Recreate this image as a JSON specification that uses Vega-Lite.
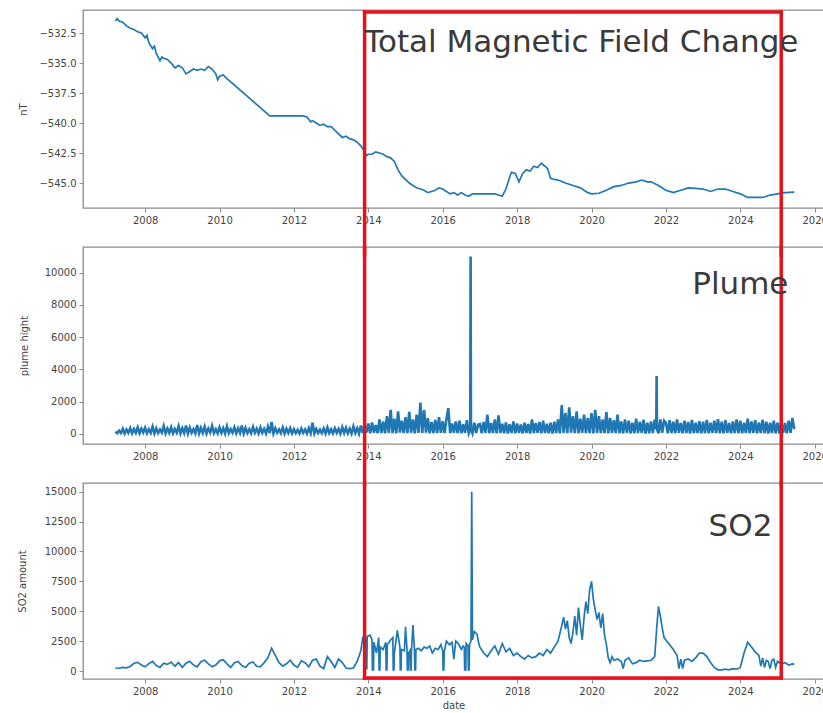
{
  "$schema": "https://vega.github.io/schema/vega-lite/v6.json",
  "background": "white",
  "padding": {"left": 16, "top": 8, "right": 0, "bottom": 0},
  "bounds": "flush",
  "spacing": 39,
  "config": {
    "view": {"stroke": "#8a8a8a", "strokeWidth": 1.3},
    "axis": {"grid": false, "domain": false, "labelOverlap": false, "tickColor": "#8a8a8a", "tickSize": 4, "labelFont": "DejaVu Sans", "labelFontSize": 10, "labelColor": "#444444", "titleFont": "DejaVu Sans", "titleFontSize": 10, "titleFontWeight": "normal", "titleColor": "#444444", "labelPadding": 3},
    "title": {"font": "DejaVu Sans", "fontSize": 31, "fontWeight": "normal", "color": "#3a3a3a", "anchor": "end", "baseline": "alphabetic"}
  },
  "datasets": {
    "box": [{"start": 2013.9, "end": 2025.1}],
    "mag": [
      {"date":2007.2,"value":-531.5},{"date":2007.25,"value":-531.3},{"date":2007.3,"value":-531.5},{"date":2007.4,"value":-531.6},{"date":2007.5,"value":-531.9},{"date":2007.6,"value":-532.1},{"date":2007.7,"value":-532.2},{"date":2007.8,"value":-532.4},{"date":2007.9,"value":-532.5},{"date":2008.0,"value":-532.9},{"date":2008.05,"value":-532.7},{"date":2008.1,"value":-533.3},{"date":2008.2,"value":-533.8},{"date":2008.25,"value":-533.6},{"date":2008.3,"value":-534.2},{"date":2008.4,"value":-534.8},{"date":2008.45,"value":-534.5},{"date":2008.5,"value":-534.6},{"date":2008.6,"value":-534.7},{"date":2008.7,"value":-535.0},{"date":2008.8,"value":-535.4},{"date":2008.9,"value":-535.2},{"date":2009.0,"value":-535.4},{"date":2009.1,"value":-535.9},{"date":2009.2,"value":-535.7},{"date":2009.3,"value":-535.5},{"date":2009.4,"value":-535.6},{"date":2009.5,"value":-535.5},{"date":2009.6,"value":-535.6},{"date":2009.7,"value":-535.3},{"date":2009.8,"value":-535.5},{"date":2009.9,"value":-535.9},{"date":2009.95,"value":-536.4},{"date":2010.0,"value":-536.1},{"date":2010.1,"value":-536.0},{"date":2010.2,"value":-536.3},{"date":2011.35,"value":-539.4},{"date":2012.25,"value":-539.4},{"date":2012.35,"value":-539.5},{"date":2012.45,"value":-539.9},{"date":2012.5,"value":-539.8},{"date":2012.6,"value":-540.0},{"date":2012.7,"value":-540.2},{"date":2012.8,"value":-540.1},{"date":2012.9,"value":-540.3},{"date":2013.0,"value":-540.3},{"date":2013.1,"value":-540.6},{"date":2013.2,"value":-540.9},{"date":2013.3,"value":-541.2},{"date":2013.4,"value":-541.1},{"date":2013.5,"value":-541.3},{"date":2013.6,"value":-541.4},{"date":2013.7,"value":-541.6},{"date":2013.8,"value":-541.9},{"date":2013.9,"value":-542.4},{"date":2013.95,"value":-542.7},{"date":2014.0,"value":-542.6},{"date":2014.1,"value":-542.6},{"date":2014.2,"value":-542.4},{"date":2014.3,"value":-542.5},{"date":2014.4,"value":-542.6},{"date":2014.5,"value":-542.8},{"date":2014.6,"value":-542.9},{"date":2014.7,"value":-543.2},{"date":2014.8,"value":-543.9},{"date":2014.9,"value":-544.4},{"date":2015.0,"value":-544.7},{"date":2015.1,"value":-545.0},{"date":2015.2,"value":-545.2},{"date":2015.3,"value":-545.4},{"date":2015.4,"value":-545.5},{"date":2015.5,"value":-545.6},{"date":2015.6,"value":-545.8},{"date":2015.7,"value":-545.7},{"date":2015.8,"value":-545.6},{"date":2015.9,"value":-545.4},{"date":2016.0,"value":-545.5},{"date":2016.1,"value":-545.7},{"date":2016.2,"value":-545.9},{"date":2016.3,"value":-545.8},{"date":2016.4,"value":-546.0},{"date":2016.5,"value":-545.8},{"date":2016.6,"value":-546.0},{"date":2016.7,"value":-546.1},{"date":2016.8,"value":-545.9},{"date":2017.0,"value":-545.9},{"date":2017.2,"value":-545.9},{"date":2017.4,"value":-545.9},{"date":2017.5,"value":-546.0},{"date":2017.6,"value":-546.1},{"date":2017.7,"value":-545.5},{"date":2017.8,"value":-544.5},{"date":2017.85,"value":-544.1},{"date":2017.95,"value":-544.2},{"date":2018.05,"value":-544.9},{"date":2018.15,"value":-544.2},{"date":2018.25,"value":-543.9},{"date":2018.35,"value":-544.0},{"date":2018.45,"value":-543.6},{"date":2018.55,"value":-543.7},{"date":2018.65,"value":-543.35},{"date":2018.75,"value":-543.6},{"date":2018.82,"value":-543.8},{"date":2018.9,"value":-544.6},{"date":2019.0,"value":-544.7},{"date":2019.1,"value":-544.75},{"date":2019.3,"value":-545.0},{"date":2019.5,"value":-545.2},{"date":2019.7,"value":-545.4},{"date":2019.9,"value":-545.8},{"date":2020.0,"value":-545.9},{"date":2020.2,"value":-545.85},{"date":2020.4,"value":-545.6},{"date":2020.6,"value":-545.3},{"date":2020.8,"value":-545.2},{"date":2021.0,"value":-545.0},{"date":2021.2,"value":-544.9},{"date":2021.35,"value":-544.75},{"date":2021.5,"value":-544.9},{"date":2021.6,"value":-544.9},{"date":2021.8,"value":-545.2},{"date":2022.0,"value":-545.6},{"date":2022.2,"value":-545.8},{"date":2022.4,"value":-545.6},{"date":2022.6,"value":-545.4},{"date":2022.8,"value":-545.45},{"date":2023.0,"value":-545.5},{"date":2023.2,"value":-545.7},{"date":2023.4,"value":-545.5},{"date":2023.6,"value":-545.5},{"date":2023.8,"value":-545.7},{"date":2024.0,"value":-545.9},{"date":2024.2,"value":-546.2},{"date":2024.4,"value":-546.2},{"date":2024.6,"value":-546.2},{"date":2024.8,"value":-546.0},{"date":2025.0,"value":-545.9},{"date":2025.2,"value":-545.8},{"date":2025.45,"value":-545.75}
    ],
    "plume": [
      {"date":2007.20,"value":150},{"date":2007.25,"value":40},{"date":2007.30,"value":210},{"date":2007.35,"value":60},{"date":2007.40,"value":320},{"date":2007.45,"value":30},{"date":2007.50,"value":280},{"date":2007.55,"value":80},{"date":2007.60,"value":360},{"date":2007.65,"value":40},{"date":2007.70,"value":300},{"date":2007.75,"value":70},{"date":2007.80,"value":410},{"date":2007.85,"value":50},{"date":2007.90,"value":330},{"date":2007.95,"value":90},
      {"date":2008.00,"value":380},{"date":2008.05,"value":40},{"date":2008.10,"value":290},{"date":2008.15,"value":70},{"date":2008.20,"value":450},{"date":2008.25,"value":30},{"date":2008.30,"value":350},{"date":2008.35,"value":60},{"date":2008.40,"value":270},{"date":2008.45,"value":90},{"date":2008.50,"value":500},{"date":2008.55,"value":40},{"date":2008.60,"value":330},{"date":2008.65,"value":70},{"date":2008.70,"value":420},{"date":2008.75,"value":50},{"date":2008.80,"value":310},{"date":2008.85,"value":80},{"date":2008.90,"value":480},{"date":2008.95,"value":40},
      {"date":2009.00,"value":360},{"date":2009.05,"value":60},{"date":2009.10,"value":520},{"date":2009.15,"value":30},{"date":2009.20,"value":400},{"date":2009.25,"value":80},{"date":2009.30,"value":300},{"date":2009.35,"value":50},{"date":2009.40,"value":560},{"date":2009.45,"value":40},{"date":2009.50,"value":380},{"date":2009.55,"value":70},{"date":2009.60,"value":450},{"date":2009.65,"value":30},{"date":2009.70,"value":340},{"date":2009.75,"value":90},{"date":2009.80,"value":510},{"date":2009.85,"value":60},{"date":2009.90,"value":290},{"date":2009.95,"value":40},
      {"date":2010.00,"value":420},{"date":2010.05,"value":70},{"date":2010.10,"value":360},{"date":2010.15,"value":30},{"date":2010.20,"value":480},{"date":2010.25,"value":60},{"date":2010.30,"value":300},{"date":2010.35,"value":80},{"date":2010.40,"value":410},{"date":2010.45,"value":40},{"date":2010.50,"value":350},{"date":2010.55,"value":70},{"date":2010.60,"value":520},{"date":2010.65,"value":30},{"date":2010.70,"value":380},{"date":2010.75,"value":60},{"date":2010.80,"value":290},{"date":2010.85,"value":50},{"date":2010.90,"value":440},{"date":2010.95,"value":80},
      {"date":2011.00,"value":330},{"date":2011.05,"value":40},{"date":2011.10,"value":400},{"date":2011.15,"value":70},{"date":2011.20,"value":310},{"date":2011.25,"value":30},{"date":2011.30,"value":460},{"date":2011.35,"value":60},{"date":2011.40,"value":750},{"date":2011.45,"value":40},{"date":2011.50,"value":350},{"date":2011.55,"value":80},{"date":2011.60,"value":280},{"date":2011.65,"value":50},{"date":2011.70,"value":400},{"date":2011.75,"value":30},{"date":2011.80,"value":320},{"date":2011.85,"value":70},{"date":2011.90,"value":360},{"date":2011.95,"value":40},
      {"date":2012.00,"value":300},{"date":2012.05,"value":60},{"date":2012.10,"value":250},{"date":2012.15,"value":40},{"date":2012.20,"value":330},{"date":2012.25,"value":70},{"date":2012.30,"value":280},{"date":2012.35,"value":30},{"date":2012.40,"value":360},{"date":2012.45,"value":50},{"date":2012.50,"value":700},{"date":2012.55,"value":40},{"date":2012.60,"value":310},{"date":2012.65,"value":70},{"date":2012.70,"value":270},{"date":2012.75,"value":50},{"date":2012.80,"value":340},{"date":2012.85,"value":30},{"date":2012.90,"value":400},{"date":2012.95,"value":60},
      {"date":2013.00,"value":290},{"date":2013.05,"value":40},{"date":2013.10,"value":350},{"date":2013.15,"value":70},{"date":2013.20,"value":310},{"date":2013.25,"value":30},{"date":2013.30,"value":420},{"date":2013.35,"value":60},{"date":2013.40,"value":380},{"date":2013.45,"value":50},{"date":2013.50,"value":330},{"date":2013.55,"value":40},{"date":2013.60,"value":460},{"date":2013.65,"value":70},{"date":2013.70,"value":360},{"date":2013.75,"value":30},{"date":2013.80,"value":520},{"date":2013.85,"value":60},{"date":2013.90,"value":580},{"date":2013.95,"value":90},
      {"date":2014.00,"value":650},{"date":2014.05,"value":40},{"date":2014.10,"value":720},{"date":2014.15,"value":80},{"date":2014.20,"value":560},{"date":2014.25,"value":50},{"date":2014.30,"value":900},{"date":2014.35,"value":60},{"date":2014.40,"value":780},{"date":2014.45,"value":40},{"date":2014.50,"value":1100},{"date":2014.55,"value":70},{"date":2014.60,"value":1490},{"date":2014.65,"value":60},{"date":2014.70,"value":950},{"date":2014.75,"value":40},{"date":2014.80,"value":1400},{"date":2014.85,"value":90},{"date":2014.90,"value":820},{"date":2014.95,"value":60},
      {"date":2015.00,"value":1050},{"date":2015.05,"value":50},{"date":2015.10,"value":1380},{"date":2015.15,"value":80},{"date":2015.20,"value":900},{"date":2015.25,"value":40},{"date":2015.30,"value":1200},{"date":2015.35,"value":70},{"date":2015.40,"value":1950},{"date":2015.45,"value":60},{"date":2015.50,"value":1500},{"date":2015.55,"value":80},{"date":2015.60,"value":980},{"date":2015.65,"value":40},{"date":2015.70,"value":750},{"date":2015.75,"value":60},{"date":2015.80,"value":880},{"date":2015.85,"value":50},{"date":2015.90,"value":1050},{"date":2015.95,"value":70},
      {"date":2016.00,"value":800},{"date":2016.05,"value":60},{"date":2016.10,"value":900},{"date":2016.15,"value":1600},{"date":2016.20,"value":50},{"date":2016.25,"value":650},{"date":2016.30,"value":70},{"date":2016.35,"value":780},{"date":2016.40,"value":60},{"date":2016.45,"value":820},{"date":2016.50,"value":40},{"date":2016.55,"value":600},{"date":2016.60,"value":70},{"date":2016.65,"value":850},{"date":2016.70,"value":60},{"date":2016.74,"value":300},{"date":2016.75,"value":11000},{"date":2016.76,"value":300},{"date":2016.80,"value":50},{"date":2016.85,"value":700},{"date":2016.90,"value":60},{"date":2016.95,"value":580},
      {"date":2017.00,"value":620},{"date":2017.05,"value":40},{"date":2017.10,"value":750},{"date":2017.15,"value":70},{"date":2017.20,"value":1200},{"date":2017.25,"value":50},{"date":2017.30,"value":680},{"date":2017.35,"value":60},{"date":2017.40,"value":900},{"date":2017.45,"value":40},{"date":2017.50,"value":1150},{"date":2017.55,"value":70},{"date":2017.60,"value":640},{"date":2017.65,"value":50},{"date":2017.70,"value":720},{"date":2017.75,"value":30},{"date":2017.80,"value":600},{"date":2017.85,"value":60},{"date":2017.90,"value":780},{"date":2017.95,"value":40},
      {"date":2018.00,"value":650},{"date":2018.05,"value":70},{"date":2018.10,"value":580},{"date":2018.15,"value":40},{"date":2018.20,"value":700},{"date":2018.25,"value":60},{"date":2018.30,"value":620},{"date":2018.35,"value":30},{"date":2018.40,"value":900},{"date":2018.45,"value":50},{"date":2018.50,"value":680},{"date":2018.55,"value":70},{"date":2018.60,"value":750},{"date":2018.65,"value":40},{"date":2018.70,"value":820},{"date":2018.75,"value":60},{"date":2018.80,"value":640},{"date":2018.85,"value":50},{"date":2018.90,"value":700},{"date":2018.95,"value":30},
      {"date":2019.00,"value":760},{"date":2019.05,"value":60},{"date":2019.10,"value":900},{"date":2019.15,"value":40},{"date":2019.20,"value":1800},{"date":2019.25,"value":70},{"date":2019.30,"value":1300},{"date":2019.35,"value":50},{"date":2019.40,"value":1650},{"date":2019.45,"value":80},{"date":2019.50,"value":1100},{"date":2019.55,"value":60},{"date":2019.60,"value":1400},{"date":2019.65,"value":40},{"date":2019.70,"value":950},{"date":2019.75,"value":70},{"date":2019.80,"value":1200},{"date":2019.85,"value":50},{"date":2019.90,"value":1000},{"date":2019.95,"value":60},
      {"date":2020.00,"value":1300},{"date":2020.05,"value":40},{"date":2020.10,"value":1500},{"date":2020.15,"value":70},{"date":2020.20,"value":1100},{"date":2020.25,"value":60},{"date":2020.30,"value":900},{"date":2020.35,"value":50},{"date":2020.40,"value":1350},{"date":2020.45,"value":40},{"date":2020.50,"value":1000},{"date":2020.55,"value":70},{"date":2020.60,"value":850},{"date":2020.65,"value":60},{"date":2020.70,"value":1200},{"date":2020.75,"value":50},{"date":2020.80,"value":780},{"date":2020.85,"value":40},{"date":2020.90,"value":900},{"date":2020.95,"value":70},
      {"date":2021.00,"value":820},{"date":2021.05,"value":50},{"date":2021.10,"value":700},{"date":2021.15,"value":40},{"date":2021.20,"value":950},{"date":2021.25,"value":60},{"date":2021.30,"value":760},{"date":2021.35,"value":70},{"date":2021.40,"value":880},{"date":2021.45,"value":30},{"date":2021.50,"value":700},{"date":2021.55,"value":50},{"date":2021.60,"value":780},{"date":2021.65,"value":60},{"date":2021.70,"value":900},{"date":2021.74,"value":300},{"date":2021.75,"value":3600},{"date":2021.76,"value":300},{"date":2021.80,"value":40},{"date":2021.85,"value":900},{"date":2021.90,"value":70},{"date":2021.95,"value":820},
      {"date":2022.00,"value":700},{"date":2022.05,"value":40},{"date":2022.10,"value":850},{"date":2022.15,"value":60},{"date":2022.20,"value":760},{"date":2022.25,"value":50},{"date":2022.30,"value":900},{"date":2022.35,"value":70},{"date":2022.40,"value":680},{"date":2022.45,"value":40},{"date":2022.50,"value":820},{"date":2022.55,"value":60},{"date":2022.60,"value":750},{"date":2022.65,"value":30},{"date":2022.70,"value":880},{"date":2022.75,"value":50},{"date":2022.80,"value":700},{"date":2022.85,"value":60},{"date":2022.90,"value":800},{"date":2022.95,"value":40},
      {"date":2023.00,"value":760},{"date":2023.05,"value":50},{"date":2023.10,"value":880},{"date":2023.15,"value":40},{"date":2023.20,"value":700},{"date":2023.25,"value":70},{"date":2023.30,"value":820},{"date":2023.35,"value":60},{"date":2023.40,"value":920},{"date":2023.45,"value":40},{"date":2023.50,"value":760},{"date":2023.55,"value":50},{"date":2023.60,"value":850},{"date":2023.65,"value":70},{"date":2023.70,"value":690},{"date":2023.75,"value":40},{"date":2023.80,"value":780},{"date":2023.85,"value":60},{"date":2023.90,"value":900},{"date":2023.95,"value":50},
      {"date":2024.00,"value":820},{"date":2024.05,"value":40},{"date":2024.10,"value":700},{"date":2024.15,"value":60},{"date":2024.20,"value":950},{"date":2024.25,"value":50},{"date":2024.30,"value":780},{"date":2024.35,"value":70},{"date":2024.40,"value":850},{"date":2024.45,"value":40},{"date":2024.50,"value":720},{"date":2024.55,"value":60},{"date":2024.60,"value":880},{"date":2024.65,"value":50},{"date":2024.70,"value":760},{"date":2024.75,"value":30},{"date":2024.80,"value":700},{"date":2024.85,"value":60},{"date":2024.90,"value":820},{"date":2024.95,"value":40},
      {"date":2025.00,"value":700},{"date":2025.05,"value":50},{"date":2025.10,"value":760},{"date":2025.15,"value":60},{"date":2025.20,"value":680},{"date":2025.25,"value":40},{"date":2025.30,"value":820},{"date":2025.35,"value":70},{"date":2025.40,"value":1000},{"date":2025.45,"value":300}
    ],
    "so2": [
      {"date":2007.2,"value":250},{"date":2007.3,"value":230},{"date":2007.4,"value":300},{"date":2007.5,"value":260},{"date":2007.6,"value":380},{"date":2007.7,"value":650},{"date":2007.8,"value":720},{"date":2007.9,"value":500},{"date":2008.0,"value":350},{"date":2008.1,"value":620},{"date":2008.2,"value":800},{"date":2008.3,"value":450},{"date":2008.4,"value":300},{"date":2008.5,"value":650},{"date":2008.6,"value":550},{"date":2008.7,"value":750},{"date":2008.8,"value":400},{"date":2008.9,"value":700},{"date":2009.0,"value":300},{"date":2009.1,"value":650},{"date":2009.2,"value":820},{"date":2009.3,"value":500},{"date":2009.4,"value":350},{"date":2009.5,"value":780},{"date":2009.6,"value":900},{"date":2009.7,"value":600},{"date":2009.8,"value":350},{"date":2009.9,"value":500},{"date":2010.0,"value":850},{"date":2010.1,"value":950},{"date":2010.2,"value":600},{"date":2010.3,"value":300},{"date":2010.4,"value":700},{"date":2010.5,"value":800},{"date":2010.6,"value":450},{"date":2010.7,"value":300},{"date":2010.8,"value":650},{"date":2010.9,"value":750},{"date":2011.0,"value":400},{"date":2011.1,"value":350},{"date":2011.2,"value":700},{"date":2011.3,"value":1100},{"date":2011.4,"value":1900},{"date":2011.5,"value":1300},{"date":2011.6,"value":700},{"date":2011.7,"value":400},{"date":2011.8,"value":600},{"date":2011.9,"value":900},{"date":2012.0,"value":500},{"date":2012.1,"value":300},{"date":2012.2,"value":850},{"date":2012.3,"value":700},{"date":2012.4,"value":350},{"date":2012.5,"value":900},{"date":2012.6,"value":1000},{"date":2012.7,"value":400},{"date":2012.8,"value":200},{"date":2012.9,"value":1200},{"date":2013.0,"value":800},{"date":2013.1,"value":300},{"date":2013.2,"value":1000},{"date":2013.3,"value":700},{"date":2013.4,"value":250},{"date":2013.5,"value":200},{"date":2013.6,"value":250},{"date":2013.7,"value":800},{"date":2013.8,"value":1700},
      {"date":2013.85,"value":2800},{"date":2013.90,"value":3000},{"date":2013.93,"value":2700},{"date":2013.94,"value":200},{"date":2013.96,"value":200},{"date":2013.97,"value":2900},{"date":2014.05,"value":3000},{"date":2014.10,"value":2600},{"date":2014.11,"value":100},{"date":2014.14,"value":100},{"date":2014.15,"value":2400},{"date":2014.22,"value":1500},{"date":2014.28,"value":2800},{"date":2014.29,"value":100},{"date":2014.31,"value":100},{"date":2014.32,"value":2000},{"date":2014.40,"value":1800},{"date":2014.47,"value":2400},{"date":2014.48,"value":100},{"date":2014.50,"value":100},{"date":2014.51,"value":2200},{"date":2014.60,"value":2600},{"date":2014.66,"value":2800},{"date":2014.67,"value":100},{"date":2014.69,"value":100},{"date":2014.70,"value":1500},{"date":2014.78,"value":3400},{"date":2014.85,"value":2000},{"date":2014.86,"value":100},{"date":2014.88,"value":100},{"date":2014.89,"value":1800},{"date":2014.97,"value":1700},{"date":2015.00,"value":3700},{"date":2015.04,"value":1800},{"date":2015.05,"value":100},{"date":2015.07,"value":100},{"date":2015.08,"value":1500},{"date":2015.12,"value":1700},{"date":2015.13,"value":100},{"date":2015.15,"value":100},{"date":2015.16,"value":1700},{"date":2015.20,"value":3850},{"date":2015.24,"value":1800},{"date":2015.25,"value":100},{"date":2015.27,"value":100},{"date":2015.28,"value":1800},{"date":2015.35,"value":1900},{"date":2015.42,"value":1700},{"date":2015.50,"value":2000},{"date":2015.58,"value":1900},{"date":2015.65,"value":2100},{"date":2015.72,"value":1500},{"date":2015.80,"value":1900},{"date":2015.88,"value":1800},{"date":2015.95,"value":2200},{"date":2016.00,"value":1700},{"date":2016.01,"value":100},{"date":2016.03,"value":100},{"date":2016.04,"value":1600},{"date":2016.10,"value":2500},{"date":2016.18,"value":2200},{"date":2016.25,"value":2400},{"date":2016.30,"value":1000},{"date":2016.35,"value":2500},{"date":2016.42,"value":2300},{"date":2016.50,"value":1800},{"date":2016.55,"value":2100},{"date":2016.58,"value":2000},{"date":2016.59,"value":100},{"date":2016.62,"value":100},{"date":2016.63,"value":2300},{"date":2016.68,"value":2100},{"date":2016.69,"value":100},{"date":2016.71,"value":100},{"date":2016.72,"value":2200},{"date":2016.76,"value":2500},{"date":2016.78,"value":15000},{"date":2016.80,"value":2600},{"date":2016.85,"value":3300},{"date":2016.92,"value":3100},{"date":2016.97,"value":2300},
      {"date":2017.0,"value":2000},{"date":2017.1,"value":1500},{"date":2017.2,"value":1200},{"date":2017.3,"value":1700},{"date":2017.4,"value":2100},{"date":2017.5,"value":1400},{"date":2017.6,"value":2300},{"date":2017.7,"value":1600},{"date":2017.8,"value":1900},{"date":2017.9,"value":1300},{"date":2018.0,"value":1500},{"date":2018.1,"value":1200},{"date":2018.2,"value":1000},{"date":2018.3,"value":1300},{"date":2018.4,"value":1100},{"date":2018.5,"value":1200},{"date":2018.6,"value":1500},{"date":2018.7,"value":1300},{"date":2018.8,"value":1800},{"date":2018.9,"value":1500},{"date":2019.0,"value":2000},{"date":2019.1,"value":2500},{"date":2019.2,"value":3800},{"date":2019.25,"value":4500},{"date":2019.3,"value":3500},{"date":2019.35,"value":4200},{"date":2019.4,"value":2800},{"date":2019.45,"value":2300},{"date":2019.5,"value":3200},{"date":2019.55,"value":4600},{"date":2019.6,"value":3000},{"date":2019.65,"value":5300},{"date":2019.7,"value":3800},{"date":2019.75,"value":2600},{"date":2019.8,"value":4500},{"date":2019.85,"value":5800},{"date":2019.9,"value":4800},{"date":2019.95,"value":6800},{"date":2020.0,"value":7500},{"date":2020.05,"value":6000},{"date":2020.1,"value":5100},{"date":2020.15,"value":4300},{"date":2020.2,"value":4900},{"date":2020.25,"value":3600},{"date":2020.3,"value":4800},{"date":2020.35,"value":3000},{"date":2020.4,"value":2200},{"date":2020.45,"value":1100},{"date":2020.5,"value":700},{"date":2020.55,"value":1200},{"date":2020.6,"value":900},{"date":2020.7,"value":1000},{"date":2020.8,"value":800},{"date":2020.85,"value":200},{"date":2020.9,"value":900},{"date":2021.0,"value":1100},{"date":2021.1,"value":600},{"date":2021.2,"value":700},{"date":2021.3,"value":900},{"date":2021.4,"value":800},{"date":2021.5,"value":850},{"date":2021.6,"value":900},{"date":2021.7,"value":1200},{"date":2021.75,"value":3500},{"date":2021.8,"value":5400},{"date":2021.85,"value":4600},{"date":2021.9,"value":3600},{"date":2021.95,"value":2800},{"date":2022.0,"value":2600},{"date":2022.1,"value":2200},{"date":2022.2,"value":1800},{"date":2022.3,"value":1300},{"date":2022.35,"value":200},{"date":2022.4,"value":1000},{"date":2022.45,"value":200},{"date":2022.5,"value":900},{"date":2022.6,"value":1000},{"date":2022.7,"value":800},{"date":2022.8,"value":1100},{"date":2022.9,"value":1500},{"date":2023.0,"value":1500},{"date":2023.1,"value":1200},{"date":2023.2,"value":700},{"date":2023.3,"value":300},{"date":2023.4,"value":100},{"date":2023.5,"value":100},{"date":2023.6,"value":150},{"date":2023.7,"value":100},{"date":2023.8,"value":200},{"date":2023.9,"value":150},{"date":2024.0,"value":300},{"date":2024.1,"value":1500},{"date":2024.2,"value":2400},{"date":2024.3,"value":2000},{"date":2024.4,"value":1600},{"date":2024.5,"value":1300},{"date":2024.55,"value":400},{"date":2024.6,"value":1100},{"date":2024.65,"value":300},{"date":2024.7,"value":900},{"date":2024.75,"value":800},{"date":2024.8,"value":200},{"date":2024.85,"value":900},{"date":2024.9,"value":1000},{"date":2024.95,"value":300},{"date":2025.0,"value":800},{"date":2025.1,"value":600},{"date":2025.2,"value":700},{"date":2025.3,"value":500},{"date":2025.4,"value":600},{"date":2025.45,"value":550}
    ]
  },
  "vconcat": [
    {
      "width": 741, "height": 198,
      "title": {"text": "Total Magnetic Field Change", "offset": -49, "dx": -29},
      "layer": [
        {
          "data": {"name": "mag"},
          "mark": {"type": "line", "color": "#1f77b4", "strokeWidth": 1.7},
          "encoding": {
            "x": {"field": "date", "type": "quantitative", "scale": {"domain": [2006.33, 2026.25], "nice": false, "zero": false}, "axis": {"values": [2008, 2010, 2012, 2014, 2016, 2018, 2020, 2022, 2024, 2026], "format": "d", "title": null, "labelOverlap": false}},
            "y": {"field": "value", "type": "quantitative", "scale": {"domain": [-547.08, -530.58], "nice": false, "zero": false}, "axis": {"values": [-545, -542.5, -540, -537.5, -535, -532.5], "format": ".1f", "title": "nT", "titlePadding": 10, "labelOverlap": false, "tickCount": 6}}
          }
        },
        {
          "data": {"name": "box"},
          "mark": {"type": "rule", "color": "#e8101a", "strokeWidth": 3.5, "strokeCap": "square"},
          "encoding": {"x": {"field": "start", "type": "quantitative"}, "x2": {"field": "end"}, "y": {"datum": -530.75}}
        },
        {
          "data": {"name": "box"},
          "mark": {"type": "rule", "color": "#e8101a", "strokeWidth": 3.5, "strokeCap": "square"},
          "encoding": {"x": {"field": "start", "type": "quantitative"}, "y": {"datum": -530.75}, "y2": {"datum": -551}}
        },
        {
          "data": {"name": "box"},
          "mark": {"type": "rule", "color": "#e8101a", "strokeWidth": 3.5, "strokeCap": "square"},
          "encoding": {"x": {"field": "end", "type": "quantitative"}, "y": {"datum": -530.75}, "y2": {"datum": -551}}
        }
      ]
    },
    {
      "width": 741, "height": 197,
      "title": {"text": "Plume", "offset": -56, "dx": -39},
      "layer": [
        {
          "data": {"name": "plume"},
          "mark": {"type": "line", "color": "#1f77b4", "strokeWidth": 2.6},
          "encoding": {
            "x": {"field": "date", "type": "quantitative", "scale": {"domain": [2006.33, 2026.25], "nice": false, "zero": false}, "axis": {"values": [2008, 2010, 2012, 2014, 2016, 2018, 2020, 2022, 2024, 2026], "format": "d", "title": null, "labelOverlap": false}},
            "y": {"field": "value", "type": "quantitative", "scale": {"domain": [-620, 11593], "nice": false, "zero": false}, "axis": {"values": [0, 2000, 4000, 6000, 8000, 10000], "format": "d", "title": "plume hight", "titlePadding": 15, "labelOverlap": false, "tickCount": 6}}
          }
        },
        {
          "data": {"name": "box"},
          "mark": {"type": "rule", "color": "#e8101a", "strokeWidth": 3.5, "strokeCap": "square"},
          "encoding": {"x": {"field": "start", "type": "quantitative"}, "y": {"datum": 11593}, "y2": {"datum": -3100}}
        },
        {
          "data": {"name": "box"},
          "mark": {"type": "rule", "color": "#e8101a", "strokeWidth": 3.5, "strokeCap": "square"},
          "encoding": {"x": {"field": "end", "type": "quantitative"}, "y": {"datum": 11593}, "y2": {"datum": -3100}}
        }
      ]
    },
    {
      "width": 741, "height": 196,
      "title": {"text": "SO2", "offset": -62, "dx": -55},
      "layer": [
        {
          "data": {"name": "so2"},
          "mark": {"type": "line", "color": "#1f77b4", "strokeWidth": 1.7},
          "encoding": {
            "x": {"field": "date", "type": "quantitative", "scale": {"domain": [2006.33, 2026.25], "nice": false, "zero": false}, "axis": {"values": [2008, 2010, 2012, 2014, 2016, 2018, 2020, 2022, 2024, 2026], "format": "d", "title": "date", "titlePadding": 4, "labelOverlap": false}},
            "y": {"field": "value", "type": "quantitative", "scale": {"domain": [-669, 15728], "nice": false, "zero": false}, "axis": {"values": [0, 2500, 5000, 7500, 10000, 12500, 15000], "format": "d", "title": "SO2 amount", "titlePadding": 17, "labelOverlap": false, "tickCount": 7}}
          }
        },
        {
          "data": {"name": "box"},
          "mark": {"type": "rule", "color": "#e8101a", "strokeWidth": 3.5, "strokeCap": "square"},
          "encoding": {"x": {"field": "start", "type": "quantitative"}, "y": {"datum": 15728}, "y2": {"datum": -586}}
        },
        {
          "data": {"name": "box"},
          "mark": {"type": "rule", "color": "#e8101a", "strokeWidth": 3.5, "strokeCap": "square"},
          "encoding": {"x": {"field": "end", "type": "quantitative"}, "y": {"datum": 15728}, "y2": {"datum": -586}}
        },
        {
          "data": {"name": "box"},
          "mark": {"type": "rule", "color": "#e8101a", "strokeWidth": 3.5, "strokeCap": "square"},
          "encoding": {"x": {"field": "start", "type": "quantitative"}, "x2": {"field": "end"}, "y": {"datum": -586}}
        }
      ]
    }
  ]
}
